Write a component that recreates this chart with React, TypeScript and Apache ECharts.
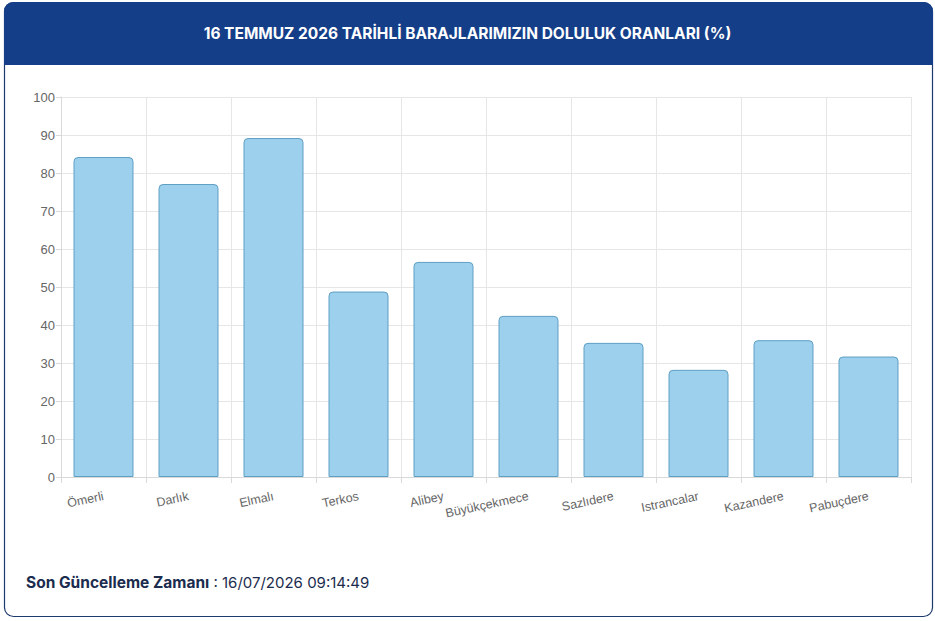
import React, { useEffect, useRef } from "react";
import * as echarts from "echarts";

const categories = [
  "Ömerli",
  "Darlık",
  "Elmalı",
  "Terkos",
  "Alibey",
  "Büyükçekmece",
  "Sazlıdere",
  "Istrancalar",
  "Kazandere",
  "Pabuçdere",
];
const fillRates = [84.2, 77.1, 89.2, 48.8, 56.6, 42.4, 35.3, 28.2, 36.0, 31.7];
const titleText = "16 TEMMUZ 2026 TARİHLİ BARAJLARIMIZIN DOLULUK ORANLARI (%)";
const footerLabel = "Son Güncelleme Zamanı";
const footerValue = " : 16/07/2026 09:14:49";

export default function App() {
  const ref = useRef<HTMLDivElement>(null);
  useEffect(() => {
    if (!ref.current) return;
    const chart = echarts.init(ref.current, undefined, { renderer: "svg" });
    chart.setOption({
      animation: false,
      backgroundColor: "#ffffff",
      graphic: [
        {
          type: "rect",
          z: -10,
          shape: { x: 4.5, y: 2.5, width: 928, height: 614, r: 9 },
          style: { fill: "#ffffff", stroke: "#1d3a6e", lineWidth: 1.2 },
        },
        {
          type: "rect",
          z: -9,
          shape: { x: 4, y: 2, width: 929, height: 63, r: [9, 9, 0, 0] },
          style: { fill: "#143e88" },
        },
        {
          type: "text",
          left: "center",
          top: 25,
          style: {
            text: titleText,
            fill: "#ffffff",
            font: "bold 15.5px Inter, 'Noto Sans', sans-serif",
          },
        },
        {
          type: "text",
          left: 26,
          top: 574,
          style: {
            text: `{b|${footerLabel}}{r|${footerValue}}`,
            rich: {
              b: {
                fill: "#1b2c4e",
                color: "#1b2c4e",
                fontWeight: "bold",
                fontSize: 15.5,
                fontFamily: "Inter, 'Noto Sans', sans-serif",
              },
              r: {
                fill: "#1b2c4e",
                color: "#1b2c4e",
                fontSize: 15,
                fontFamily: "Inter, 'Noto Sans', sans-serif",
              },
            },
          },
        },
      ],
      grid: { left: 61, right: 24, top: 97, bottom: 144, containLabel: false },
      xAxis: {
        type: "category",
        data: categories,
        boundaryGap: true,
        axisLine: { show: true, lineStyle: { color: "#d9d9d9" } },
        axisTick: { show: true, length: 6, lineStyle: { color: "#d9d9d9" } },
        splitLine: { show: true, lineStyle: { color: "#e6e6e6" } },
        axisLabel: {
          rotate: 12,
          margin: 19,
          color: "#666666",
          fontSize: 12.5,
          fontFamily: "'Liberation Sans', Arial, sans-serif",
          interval: 0,
        },
      },
      yAxis: {
        type: "value",
        min: 0,
        max: 100,
        interval: 10,
        axisLine: { show: true, lineStyle: { color: "#d9d9d9" } },
        axisTick: { show: true, length: 5, lineStyle: { color: "#d9d9d9" } },
        splitLine: { show: true, lineStyle: { color: "#e6e6e6" } },
        axisLabel: {
          margin: 6,
          color: "#666666",
          fontSize: 13,
          fontFamily: "'Liberation Sans', Arial, sans-serif",
        },
      },
      series: [
        {
          type: "bar",
          data: fillRates,
          barWidth: 60,
          itemStyle: {
            color: "#9dd0ec",
            borderColor: "#5e9fc4",
            borderWidth: 1,
            borderRadius: [4, 4, 0, 0],
          },
        },
      ],
    });
    return () => chart.dispose();
  }, []);
  return (
    <div
      ref={ref}
      style={{ position: "fixed", left: 0, top: 0, width: 935, height: 621 }}
    />
  );
}
